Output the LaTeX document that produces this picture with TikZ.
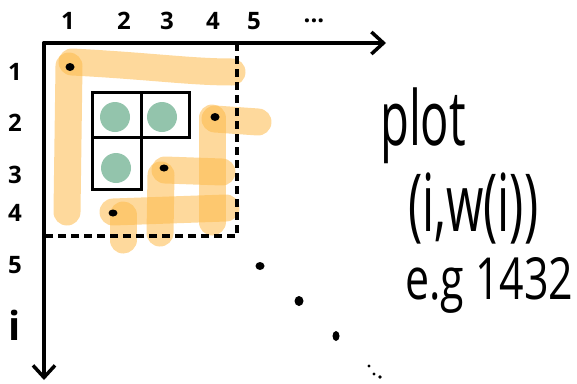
\documentclass[tikz,border=0pt]{standalone}
\usepackage{fontspec}
\setmainfont{Open Sans}
\usetikzlibrary{arrows.meta}
\definecolor{hl}{RGB}{253,186,74}
\definecolor{cellgreen}{RGB}{147,196,172}
\tikzset{
  axis/.style={line width=3.8pt, line cap=round, -{Straight Barb[length=12pt,width=22pt,line width=3.5pt]}},
  dashbox/.style={line width=3.5pt, dash pattern=on 8pt off 5pt},
  hlstroke/.style={hl, opacity=0.55, line width=27pt, line cap=round},
  grid/.style={line width=3pt},
  blob/.style={cellgreen, fill=cellgreen},
  pt/.style={fill=black},
  lab/.style={font=\fontsize{24}{24}\selectfont\bfseries, inner sep=0pt},
  big/.style={inner sep=0pt, anchor=west, transform shape}
}
\begin{document}
\begin{tikzpicture}[x=1pt,y=-1pt]
\useasboundingbox (0,0) rectangle (577,383);
% coordinates
\coordinate (O) at (44,43);
\coordinate (xend) at (386,43);
\coordinate (yend) at (44,380);
\coordinate (dtr) at (237,43);
\coordinate (dbr) at (237,236);
\coordinate (dbl) at (44,236);
% highlight strokes
\draw[hlstroke] (72,62) .. controls (150,66) and (190,72) .. (232,72);
\draw[hlstroke] (69,66) -- (67,212);
\draw[hlstroke] (215,119) -- (258,122);
\draw[hlstroke] (212,118) -- (212,222);
\draw[hlstroke] (165,170) -- (222,172);
\draw[hlstroke] (161,175) -- (160,233);
\draw[hlstroke] (113,212) -- (226,208);
\draw[hlstroke] (123,215) -- (123,240);
% axes
\draw[axis] (O) -- (xend);
\draw[axis] (O) -- (yend);
\draw[dashbox] (dtr) -- (dbr) -- (dbl);
% cells
\draw[grid] (92,92) -- (189,92) -- (189,137) -- (141,137) -- (141,189) -- (92,189) -- cycle;
\draw[grid] (92,137) -- (141,137);
\draw[grid] (141,92) -- (141,137);
\fill[blob] (115,117) circle (15);
\fill[blob] (162,117) circle (15);
\fill[blob] (116,168) circle (15);
% points
\fill[pt] (70,67) ellipse (4.5 and 4);
\fill[pt] (215,117) ellipse (4.5 and 4);
\fill[pt] (164,168) ellipse (4.5 and 3.5);
\fill[pt] (113,213) ellipse (4.5 and 3.5);
\fill[pt] (260,266) ellipse (4.5 and 4);
\fill[pt] (299,301) ellipse (4.5 and 5);
\fill[pt] (336,336) ellipse (3.5 and 5);
\fill[pt] (369,366) circle (1.6);
\fill[pt] (374,374) circle (1.6);
\fill[pt] (380,377) circle (1.8);
% column labels
\node[lab] (c1) at (68,21) {1};
\node[lab] (c2) at (124,21) {2};
\node[lab] (c3) at (167,21) {3};
\node[lab] (c4) at (213,21) {4};
\node[lab] (c5) at (254,21) {5};
\node[lab] (cd) at (314,21) {...};
% row labels
\node[lab] (r1) at (15,72) {1};
\node[lab] (r2) at (15,123) {2};
\node[lab] (r3) at (15,175) {3};
\node[lab] (r4) at (15,213) {4};
\node[lab] (r5) at (15,265) {5};
\node[lab, font=\fontsize{40}{40}\selectfont\bfseries] (ri) at (15,325) {i};
% text
\node[big, xscale=0.62, font=\fontsize{76}{76}\selectfont] (t1) at (380,126) {plot};
\node[big, xscale=0.6, font=\fontsize{80}{80}\selectfont] (t2) at (408,208) {(i,w(i))};
\node[big, xscale=0.74, font=\fontsize{58}{58}\selectfont] (t3) at (405,285) {e.g 1432};
\end{tikzpicture}
\end{document}
